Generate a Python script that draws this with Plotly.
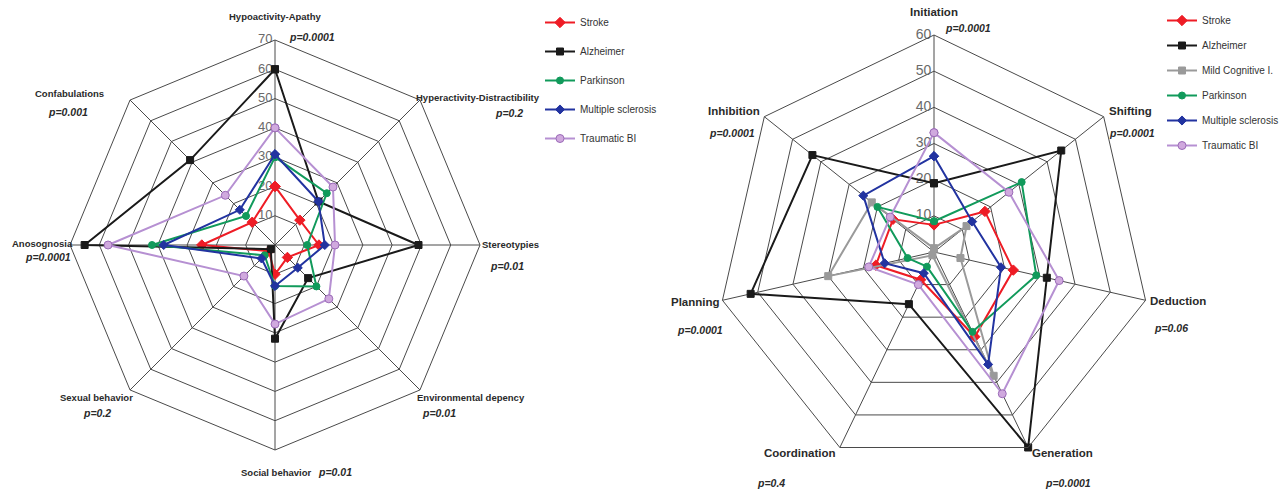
import plotly.graph_objects as go

# ---------------- data ----------------
left_axes = ["Hypoactivity-Apathy", "Hyperactivity-Distractibility", "Stereotypies",
             "Environmental depency", "Social behavior", "Sexual behavior",
             "Anosognosia", "Confabulations"]
left_stroke = [20, 12, 15, 6, 10, 3, 25, 11]
left_alzheimer = [60, 21, 49, 16, 32, 2, 65, 41]
left_parkinson = [30, 25, 11, 20, 14, 5, 42, 14]
left_ms = [31, 21, 17, 11, 14, 6.5, 38, 17]
left_tbi = [40, 28, 20.5, 26, 27, 15, 57, 24]
left_pvalues = ["p=0.0001", "p=0.2", "p=0.01", "p=0.01", "p=0.01", "p=0.2", "p=0.0001", "p=0.001"]
left_ticks = [0, 10, 20, 30, 40, 50, 60, 70]

right_axes = ["Initiation", "Shifting", "Deduction", "Generation", "Coordination",
              "Planning", "Inhibition"]
right_stroke = [7.5, 18, 22.5, 26, 8.5, 16.5, 14.5]
right_alzheimer = [19, 45, 32, 60, 16, 52, 43]
right_mci = [1, 11.5, 7.5, 38, 1, 30, 22]
right_parkinson = [8.5, 31, 29, 24.5, 4.5, 7.5, 20]
right_ms = [26.5, 13.5, 19, 34.5, 6.5, 14, 25]
right_tbi = [33, 26.5, 35.5, 43.5, 10, 18.5, 15.5]
right_pvalues = ["p=0.0001", "p=0.0001", "p=0.06", "p=0.0001", "p=0.4", "p=0.0001", "p=0.0001"]
right_ticks = [0, 10, 20, 30, 40, 50, 60]

# ---------------- styles ----------------
W, H = 1288, 491
NARROW = "Liberation Sans Narrow, Arial Narrow, Liberation Sans, Arial, sans-serif"
BOLD = "Liberation Sans, Arial, sans-serif"

styles = {
    "Stroke": dict(color="#ee1c25", symbol="diamond", size=8, fill="#ee1c25", outline="#ee1c25"),
    "Alzheimer": dict(color="#1a1a1a", symbol="square", size=7, fill="#1a1a1a", outline="#1a1a1a"),
    "Mild Cognitive I.": dict(color="#9a9a9a", symbol="square", size=7, fill="#9a9a9a", outline="#9a9a9a"),
    "Parkinson": dict(color="#119a5b", symbol="circle", size=7, fill="#119a5b", outline="#119a5b"),
    "Multiple sclerosis": dict(color="#2233a0", symbol="diamond", size=7, fill="#2233a0", outline="#2233a0"),
    "Traumatic BI": dict(color="#b690d2", symbol="circle", size=8, fill="#d0a9de", outline="#9b6bb8"),
}

fig = go.Figure()


def add_ticks(ticks, axes, subplot, legend, fsize):
    # radial tick labels drawn left of the first spoke
    fig.add_trace(go.Scatterpolar(
        r=ticks, theta=[axes[0]] * len(ticks), mode="text",
        text=["%d\u2009" % t for t in ticks], textposition="middle left",
        textfont=dict(family=NARROW, size=fsize, color="#6a6a6a"),
        subplot=subplot, legend=legend, showlegend=False, hoverinfo="skip",
        cliponaxis=False,
    ))


def add_series(name, values, axes, subplot, legend):
    st = styles[name]
    fig.add_trace(go.Scatterpolar(
        r=list(values) + [values[0]],
        theta=list(axes) + [axes[0]],
        mode="lines+markers",
        name=name,
        subplot=subplot,
        legend=legend,
        legendgroup=legend + name,
        line=dict(color=st["color"], width=2),
        marker=dict(symbol=st["symbol"], size=st["size"], color=st["fill"],
                    line=dict(color=st["outline"], width=1)),
        cliponaxis=False,
    ))


add_ticks(left_ticks, left_axes, "polar", "legend", 13)
for nm, vals in [("Stroke", left_stroke), ("Alzheimer", left_alzheimer),
                 ("Parkinson", left_parkinson), ("Multiple sclerosis", left_ms),
                 ("Traumatic BI", left_tbi)]:
    add_series(nm, vals, left_axes, "polar", "legend")

add_ticks(right_ticks, right_axes, "polar2", "legend2", 14)
for nm, vals in [("Stroke", right_stroke), ("Alzheimer", right_alzheimer),
                 ("Mild Cognitive I.", right_mci), ("Parkinson", right_parkinson),
                 ("Multiple sclerosis", right_ms), ("Traumatic BI", right_tbi)]:
    add_series(nm, vals, right_axes, "polar2", "legend2")


def polar_layout(cx, cy, R, ticks, axes):
    return dict(
        domain=dict(x=[(cx - R) / W, (cx + R) / W], y=[(H - cy - R) / H, (H - cy + R) / H]),
        gridshape="linear",
        bgcolor="white",
        radialaxis=dict(range=[ticks[0], ticks[-1]], tickvals=ticks, angle=90,
                        showticklabels=False, showline=False, ticks="",
                        gridcolor="#4a4a4a", gridwidth=1),
        angularaxis=dict(categoryarray=axes, direction="clockwise", rotation=90,
                         showticklabels=False, ticks="", showline=True,
                         linecolor="#4a4a4a", linewidth=1,
                         gridcolor="#4a4a4a", gridwidth=1),
    )


annotations = []


def label(text, x, y, anchor, bold_italic=False, size=10.5):
    t = "<b><i>%s</i></b>" % text if bold_italic else "<b>%s</b>" % text
    annotations.append(dict(text=t, x=x / W, y=1 - y / H, xref="paper", yref="paper",
                            xanchor=anchor, yanchor="middle", showarrow=False,
                            font=dict(family=BOLD, size=size, color="#2a2a2a")))


left_label_pos = [((275, 17, "center"), (287, 37, "left")),
                  ((478, 97, "center"), (525, 113, "right")),
                  ((510, 244, "center"), (488, 266, "left")),
                  ((471, 397, "center"), (420, 413, "left")),
                  ((276, 472, "center"), (316, 472, "left")),
                  ((96, 397, "center"), (113, 413, "right")),
                  ((42, 243, "center"), (73, 257, "right")),
                  ((69, 93, "center"), (90, 112, "right"))]
for name, pv, (a, b) in zip(left_axes, left_pvalues, left_label_pos):
    label(name, *a, size=9.5)
    label(pv, *b, bold_italic=True, size=10.5)

right_label_pos = [((934, 12, "center"), (943, 28, "left")),
                   ((1130, 111, "center"), (1157, 133, "right")),
                   ((1178, 301, "center"), (1171, 328, "center")),
                   ((1062, 453, "center"), (1068, 483, "center")),
                   ((800, 453, "center"), (771, 483, "center")),
                   ((695, 302, "center"), (700, 330, "center")),
                   ((734, 111, "center"), (732, 133, "center"))]
for name, pv, (a, b) in zip(right_axes, right_pvalues, right_label_pos):
    label(name, *a, size=11.5)
    label(pv, *b, bold_italic=True, size=10.5)

fig.update_layout(
    width=W, height=H,
    margin=dict(l=0, r=0, t=0, b=0),
    paper_bgcolor="white",
    plot_bgcolor="white",
    polar=polar_layout(275, 245, 205, left_ticks, left_axes),
    polar2=polar_layout(934, 252, 217, right_ticks, right_axes),
    annotations=annotations,
    legend=dict(x=540 / W, y=1 - 8 / H, xanchor="left", yanchor="top",
                traceorder="grouped", tracegroupgap=10, itemwidth=30,
                bgcolor="rgba(0,0,0,0)",
                font=dict(family=BOLD, size=10, color="#333333")),
    legend2=dict(x=1162 / W, y=1 - 6 / H, xanchor="left", yanchor="top",
                 traceorder="grouped", tracegroupgap=6, itemwidth=30,
                 bgcolor="rgba(0,0,0,0)",
                 font=dict(family=BOLD, size=10, color="#333333")),
)

fig.write_html("out.html",
               config={"displayModeBar": False},
               post_script="document.body.style.margin='0';document.body.style.overflow='hidden';")
